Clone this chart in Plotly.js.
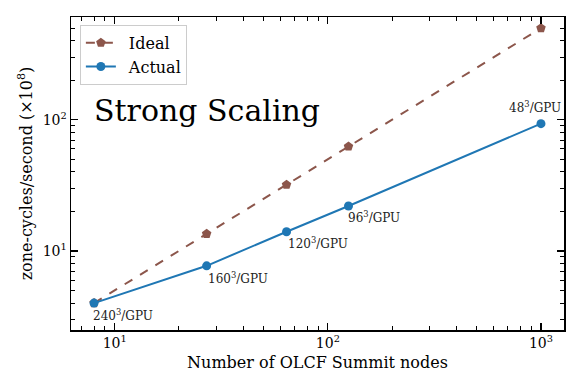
<!DOCTYPE html>
<html>
<head>
<meta charset="utf-8">
<script src="https://cdn.plot.ly/plotly-3.0.1.min.js"></script>
<style>html,body{margin:0;padding:0;background:#fff;}#chart{width:581px;height:388px;}</style>
</head>
<body>
<div id="chart"></div>
<script>
const nodes = [8, 27, 64, 125, 1000];
const ideal = [4.0, 13.5, 32, 62.5, 500];
const actual = [4.0, 7.7, 14.0, 22.0, 93.5];
const seriesNames = ['Ideal', 'Actual'];
const pointLabels = ['240<sup>3</sup>/GPU', '160<sup>3</sup>/GPU', '120<sup>3</sup>/GPU', '96<sup>3</sup>/GPU', '48<sup>3</sup>/GPU'];
const xTickVals = [10, 100, 1000];
const xTickText = ['10<sup>1</sup>', '10<sup>2</sup>', '10<sup>3</sup>'];
const yTickVals = [10, 100];
const yTickText = ['10<sup>1</sup>', '10<sup>2</sup>'];

const FONT = 'DejaVu Serif';
// [xanchor, xshift, yshift]
const labelPos = [['left', -3, -12], ['left', -1, -12], ['left', -1, -11], ['left', -2, -11], ['center', -6, 17]];

const traces = [
  {x: nodes, y: ideal, name: '\u2002' + seriesNames[0], mode: 'lines+markers', type: 'scatter',
   line: {color: '#8c564b', dash: 'dash', width: 2},
   marker: {symbol: 'pentagon', size: 10, color: '#8c564b'}},
  {x: nodes, y: actual, name: '\u2002' + seriesNames[1], mode: 'lines+markers', type: 'scatter',
   line: {color: '#1f77b4', width: 2},
   marker: {symbol: 'circle', size: 9, color: '#1f77b4'}}
];

const annotations = nodes.map((n, i) => ({
  x: Math.log10(n), y: Math.log10(actual[i]), xref: 'x', yref: 'y',
  text: pointLabels[i], showarrow: false, xanchor: labelPos[i][0],
  xshift: labelPos[i][1], yshift: labelPos[i][2],
  font: {family: FONT, size: 12, color: '#222'}
}));
annotations.push({
  x: 0.043, y: 0.70, xref: 'paper', yref: 'paper', xanchor: 'left', yanchor: 'middle',
  text: 'Strong Scaling', showarrow: false,
  font: {family: FONT, size: 30, color: '#000'}
});

const axisCommon = {
  type: 'log', showline: true, mirror: 'allticks', linecolor: '#000', linewidth: 1.5,
  ticks: 'inside', ticklen: 7, tickwidth: 1.2, tickcolor: '#000',
  showgrid: false, zeroline: false,
  tickfont: {family: FONT, size: 14, color: '#000'},
  minor: {ticks: 'inside', ticklen: 4, tickwidth: 1, tickcolor: '#000', dtick: 'D1', showgrid: false}
};

const layout = {
  width: 581, height: 388,
  margin: {l: 71, r: 17, t: 17, b: 58},
  paper_bgcolor: '#fff', plot_bgcolor: '#fff',
  showlegend: true,
  legend: {x: 0.018, y: 0.975, xanchor: 'left', yanchor: 'top',
    bordercolor: '#cccccc', borderwidth: 1, bgcolor: 'rgba(255,255,255,0.8)',
    font: {family: FONT, size: 16, color: '#000'}, tracegroupgap: 2},
  xaxis: Object.assign({}, axisCommon, {
    range: [0.795, 3.108], tickmode: 'array', tickvals: xTickVals, ticktext: xTickText,
    title: {text: 'Number of OLCF Summit nodes', font: {family: FONT, size: 16, color: '#000'}, standoff: 6}
  }),
  yaxis: Object.assign({}, axisCommon, {
    range: [0.397, 2.784], tickmode: 'array', tickvals: yTickVals, ticktext: yTickText,
    title: {text: 'zone-cycles/second (×10<sup>8</sup>)', font: {family: FONT, size: 16, color: '#000'}, standoff: 6}
  }),
  annotations: annotations
};

Plotly.newPlot('chart', traces, layout, {displayModeBar: false, staticPlot: true});
</script>
</body>
</html>
